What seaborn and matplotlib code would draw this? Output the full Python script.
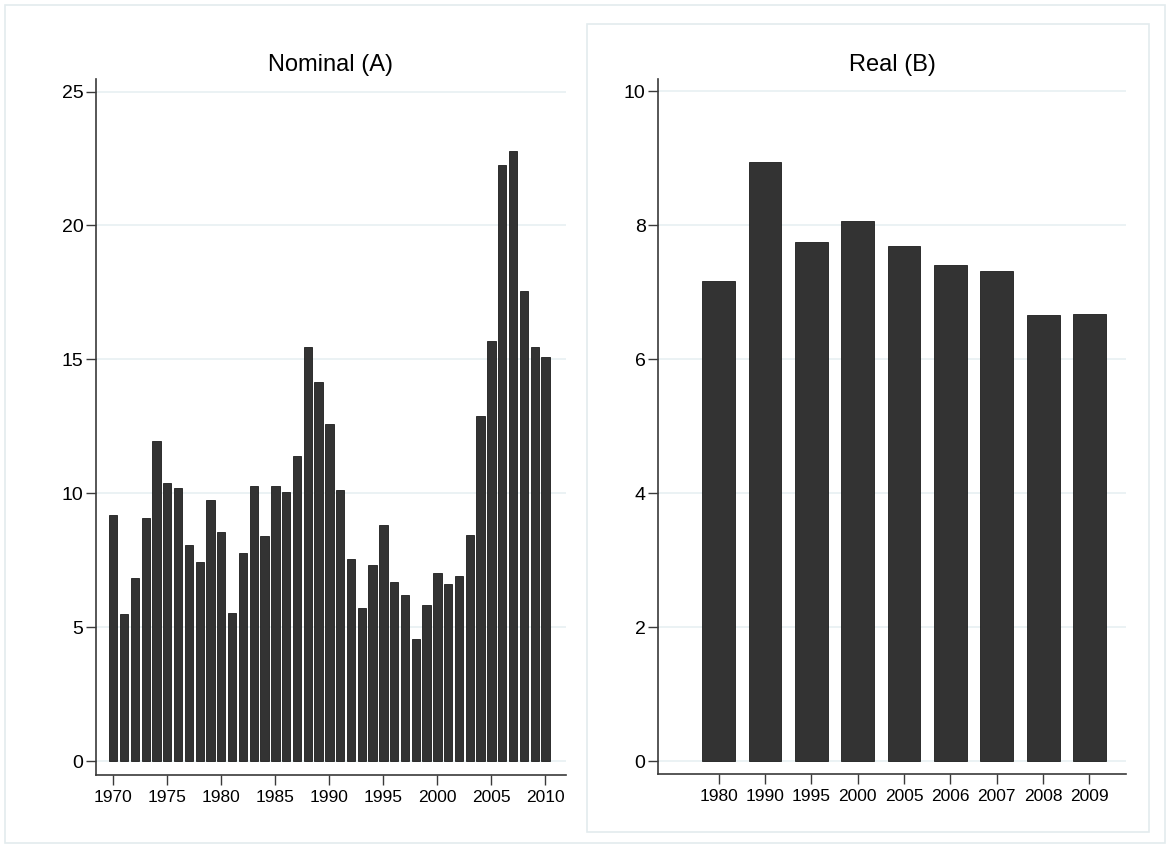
import matplotlib

matplotlib.use("Agg")

import matplotlib.pyplot as plt
import pandas as pd
import seaborn as sns
from matplotlib.patches import Rectangle


NOMINAL_YEARS = list(range(1970, 2011))
NOMINAL_VALUES = [
    9.18, 5.51, 6.84, 9.08, 11.96, 10.39, 10.18, 8.06, 7.45, 9.75,
    8.55, 5.54, 7.76, 10.29, 8.41, 10.27, 10.03, 11.39, 15.46, 14.15,
    12.57, 10.13, 7.56, 5.72, 7.34, 8.83, 6.67, 6.20, 4.57, 5.81,
    7.01, 6.62, 6.90, 8.44, 12.89, 15.68, 22.26, 22.79, 17.55, 15.47,
    15.10,
]
NOMINAL_TICKS = [1970, 1975, 1980, 1985, 1990, 1995, 2000, 2005, 2010]

REAL_YEARS = ["1980", "1990", "1995", "2000", "2005", "2006", "2007", "2008", "2009"]
REAL_VALUES = [7.16, 8.94, 7.75, 8.06, 7.69, 7.40, 7.31, 6.66, 6.67]

BAR_COLOR = "#333333"
GRID_COLOR = "#e8f0f2"
FRAME_COLOR = "#e3ebee"
AXIS_COLOR = "#3a3a3a"

W, H = 1170, 848


def px_box(x0, y0, x1, y1):
    # pixel box (top-left origin) -> figure fraction rect
    return [x0 / W, 1 - y1 / H, (x1 - x0) / W, (y1 - y0) / H]


def style_axis(ax, yticks):
    ax.set_yticks(yticks)
    ax.grid(axis="y", color=GRID_COLOR, linewidth=1.2, zorder=0)
    ax.grid(axis="x", visible=False)
    ax.set_axisbelow(True)
    for side in ["top", "right"]:
        ax.spines[side].set_visible(False)
    for side in ["left", "bottom"]:
        ax.spines[side].set_color(AXIS_COLOR)
        ax.spines[side].set_linewidth(1.2)
    ax.tick_params(axis="both", direction="out", length=7, width=1.0, color=AXIS_COLOR,
                   labelcolor="black", bottom=True, left=True)
    ax.tick_params(axis="y", labelsize=14, pad=2)
    ax.tick_params(axis="x", labelsize=12.5, pad=4)
    ax.set_xlabel("")
    ax.set_ylabel("")


def main() -> None:
    sns.set_theme(style="white")
    plt.rcParams["font.family"] = ["Liberation Sans", "DejaVu Sans"]

    fig = plt.figure(figsize=(W / 100, H / 100), dpi=100)
    fig.patch.set_facecolor("white")

    # outer frame and right panel frame
    fig.add_artist(Rectangle((5 / W, 1 - 843 / H), 1160 / W, 838 / H, transform=fig.transFigure,
                             fill=False, edgecolor=FRAME_COLOR, linewidth=1.2))
    fig.add_artist(Rectangle((587 / W, 1 - 832 / H), 562 / W, 808 / H, transform=fig.transFigure,
                             fill=False, edgecolor=FRAME_COLOR, linewidth=1.2))

    nominal = pd.DataFrame({"year": NOMINAL_YEARS, "value": NOMINAL_VALUES})
    ax1 = fig.add_axes(px_box(96, 79, 566, 775))
    sns.barplot(data=nominal, x="year", y="value", native_scale=True, width=0.77,
                color=BAR_COLOR, saturation=1, edgecolor="#1c1c1c", linewidth=0.6, ax=ax1)
    ax1.set_xlim(1968.4, 2011.9)
    ax1.set_ylim(-0.52, 25.47)
    ax1.set_xticks(NOMINAL_TICKS)
    ax1.set_xticklabels([str(t) for t in NOMINAL_TICKS])
    style_axis(ax1, [0, 5, 10, 15, 20, 25])
    ax1.set_title("Nominal (A)", fontsize=17, pad=6, color="black")

    real = pd.DataFrame({"year": REAL_YEARS, "value": REAL_VALUES})
    ax2 = fig.add_axes(px_box(658, 79, 1126, 774))
    sns.barplot(data=real, x="year", y="value", order=REAL_YEARS, width=0.71,
                color=BAR_COLOR, saturation=1, edgecolor="#1c1c1c", linewidth=0.6, ax=ax2)
    ax2.set_xlim(-1.31, 8.79)
    ax2.set_ylim(-0.19, 10.18)
    style_axis(ax2, [0, 2, 4, 6, 8, 10])
    ax2.set_title("Real (B)", fontsize=17, pad=6, color="black")

    fig.savefig("out.png", dpi=100)
    plt.close(fig)


if __name__ == "__main__":
    main()
